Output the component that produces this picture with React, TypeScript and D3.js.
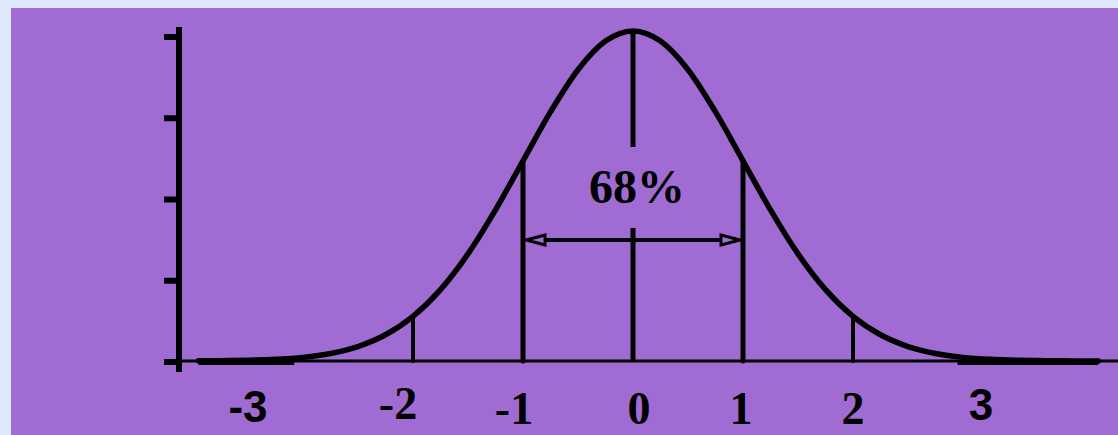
import React from "react";
import * as d3 from "d3";

// Standard-normal curve sampled at z (in standard deviations) with its density
const curveZ = [-3.95, -3.75, -3.5, -3.25, -3, -2.75, -2.5, -2.25, -2, -1.75, -1.5, -1.25, -1, -0.75, -0.5, -0.25, 0,
  0.25, 0.5, 0.75, 1, 1.25, 1.5, 1.75, 2, 2.25, 2.5, 2.75, 3, 3.25, 3.5, 3.75, 4, 4.23];
const curveDensity = [0.0002, 0.0004, 0.0009, 0.002, 0.0044, 0.0091, 0.0175, 0.0317, 0.054, 0.0863, 0.1295, 0.1826,
  0.242, 0.3011, 0.3521, 0.3867, 0.3989, 0.3867, 0.3521, 0.3011, 0.242, 0.1826, 0.1295, 0.0863, 0.054, 0.0317,
  0.0175, 0.0091, 0.0044, 0.002, 0.0009, 0.0004, 0.0001, 0.0];

// Vertical markers at whole standard deviations
const sigmaLines = [-2, -1, 0, 1, 2];
// Flat tails drawn heavier along the baseline
const tailRanges: [number, number][] = [[-3.95, -3.08], [2.95, 4.23]];
// Axis tick labels
const tickValues = [-3, -2, -1, 0, 1, 2, 3];
const tickLabels = ["-3", "-2", "-1", "0", "1", "2", "3"];
// Unlabelled y-axis ticks
const yTicks = [0, 1, 2, 3, 4];
// Share of the area within one standard deviation
const centerShare = "68%";

const W = 1118;
const H = 435;
const PURPLE = "#a06cd3";
const SERIF = "'Liberation Serif', 'Times New Roman', serif";
const SANS = "'Liberation Sans', Arial, sans-serif";

export default function App() {
  const x = d3.scaleLinear().domain([-4, 4]).range([193, 1073]);
  const y = d3.scaleLinear().domain([0, 0.3989]).range([361, 31]);
  const yAxis = d3.scaleLinear().domain([0, 4]).range([362, 37]);

  const pts = curveZ.map((z, i) => [z, curveDensity[i]] as [number, number]);
  const line = d3
    .line<[number, number]>()
    .x((d) => x(d[0]))
    .y((d) => y(d[1]))
    .curve(d3.curveMonotoneX);

  const densityAt = (z: number) => curveDensity[curveZ.indexOf(z)];

  // per-label horizontal nudges and font choice
  const labelDx = [-55, -15, -9, 6, -2, 0, 18];
  const labelBase = [422, 419, 424, 424, 424, 424, 420];
  const labelSans = [true, false, false, false, false, false, true];

  const arrowY = 240;
  const xl = x(-1) + 3;
  const xr = x(1) - 3;
  const headLen = 19;
  const headHalf = 5;

  return (
    <svg
      width={W}
      height={H}
      style={{ position: "absolute", left: 0, top: 0, display: "block" }}
    >
      <rect x={0} y={0} width={W} height={H} fill="#dde8fd" />
      <rect x={11} y={8} width={W - 11} height={H - 8} fill={PURPLE} />

      {/* y axis */}
      <line x1={179} x2={179} y1={27} y2={372} stroke="#000" strokeWidth={6} />
      {yTicks.map((t) => (
        <line key={t} x1={164} x2={179} y1={yAxis(t)} y2={yAxis(t)} stroke="#000" strokeWidth={6} />
      ))}

      {/* baseline */}
      <line x1={176} x2={W} y1={361} y2={361} stroke="#000" strokeWidth={3} />
      {tailRanges.map(([a, b], i) => (
        <line key={i} x1={x(a)} x2={x(b)} y1={362.5} y2={362.5} stroke="#000" strokeWidth={5} />
      ))}

      {/* sigma markers */}
      {sigmaLines
        .filter((z) => z !== 0)
        .map((z) => (
          <line
            key={z}
            x1={x(z)}
            x2={x(z)}
            y1={y(0)}
            y2={y(densityAt(z))}
            stroke="#000"
            strokeWidth={Math.abs(z) === 1 ? 5 : 4}
            strokeLinecap="round"
          />
        ))}
      <line x1={x(0)} x2={x(0)} y1={y(densityAt(0)) + 2} y2={147} stroke="#000" strokeWidth={5} />
      <line x1={x(0)} x2={x(0)} y1={228} y2={y(0)} stroke="#000" strokeWidth={5} />

      {/* density curve */}
      <path d={line(pts) || ""} fill="none" stroke="#000" strokeWidth={5.5} strokeLinejoin="round" strokeLinecap="round" />

      {/* double arrow spanning one standard deviation each side */}
      <line x1={xl + headLen} x2={xr - headLen} y1={arrowY} y2={arrowY} stroke="#000" strokeWidth={4} />
      <path
        d={`M${xl},${arrowY} L${xl + headLen},${arrowY - headHalf} L${xl + headLen},${arrowY + headHalf} Z`}
        fill={PURPLE}
        stroke="#000"
        strokeWidth={3}
        strokeLinejoin="miter"
      />
      <path
        d={`M${xr},${arrowY} L${xr - headLen},${arrowY - headHalf} L${xr - headLen},${arrowY + headHalf} Z`}
        fill={PURPLE}
        stroke="#000"
        strokeWidth={3}
        strokeLinejoin="miter"
      />
      <text x={637} y={203} textAnchor="middle" fontFamily={SERIF} fontWeight="bold" fontSize={48} fill="#000">
        {centerShare}
      </text>

      {/* x tick labels */}
      {tickValues.map((v, i) => (
        <text
          key={v}
          x={x(v) + labelDx[i]}
          y={labelBase[i]}
          textAnchor="middle"
          fontFamily={labelSans[i] ? SANS : SERIF}
          fontWeight="bold"
          fontSize={labelSans[i] ? 44 : 46}
          fill="#000"
        >
          {tickLabels[i]}
        </text>
      ))}
    </svg>
  );
}
